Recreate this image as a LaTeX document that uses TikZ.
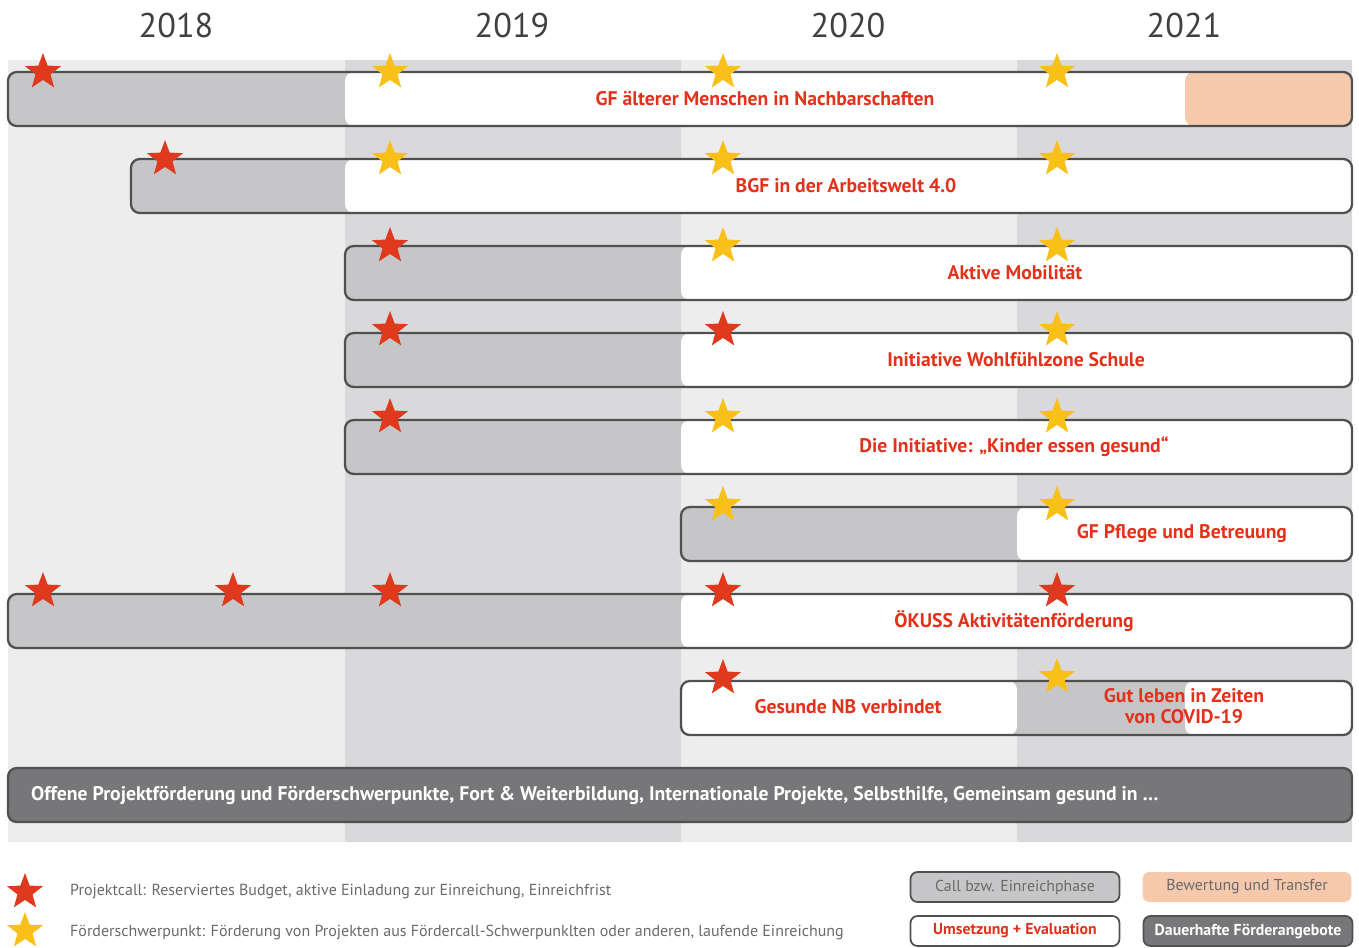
\documentclass[tikz,border=0pt]{standalone}
\usepackage{fontspec}
\setmainfont{PT Sans}
\usetikzlibrary{shapes.geometric}
\definecolor{colA}{HTML}{EDEDED}
\definecolor{colB}{HTML}{D9D9DB}
\definecolor{callgrey}{HTML}{C6C6C8}
\definecolor{linegrey}{HTML}{505050}
\definecolor{peach}{HTML}{F6C9AD}
\definecolor{darkbar}{HTML}{77777A}
\definecolor{labelred}{HTML}{E2321B}
\definecolor{starred}{HTML}{E03A1E}
\definecolor{staryellow}{HTML}{F9C01A}
\definecolor{legendtext}{HTML}{6A6A6A}

\begin{document}
\begin{tikzpicture}[x=0.02cm,y=-0.02cm,
    barline/.style={draw=linegrey,line width=1.3pt,rounded corners=5pt},
    rstar/.style={star,star points=5,star point ratio=2.4,fill=starred,minimum size=0.76cm,inner sep=0pt},
    ystar/.style={rstar,fill=staryellow},
    barlabel/.style={text=labelred,font=\bfseries\fontsize{11.2}{12.5}\selectfont,align=center},
    yearlabel/.style={text=black!75,font=\fontsize{19.5}{22}\selectfont},
    legtext/.style={text=legendtext,font=\fontsize{9.1}{11}\selectfont,anchor=west},
    legbox/.style={rounded corners=4pt,minimum width=4.18cm,minimum height=0.6cm,inner sep=0pt,font=\fontsize{9}{11}\selectfont}]
  \useasboundingbox (0,0) rectangle (1359,947);
  %year columns
    \fill[colA] (8,60) rectangle (345,842) (681,60) rectangle (1017,842);
    \fill[colB] (345,60) rectangle (681,842) (1017,60) rectangle (1352,842);
    \node[yearlabel] (y2018) at (176,26) {2018};
    \node[yearlabel] (y2019) at (512,26) {2019};
    \node[yearlabel] (y2020) at (848,26) {2020};
    \node[yearlabel] (y2021) at (1184,26) {2021};
  %bar 1 with transfer phase
    \begin{scope}
      \clip[rounded corners=5pt] (8,72) rectangle (1352,126);
      \fill[callgrey] (8,72) rectangle (1352,126);
      \fill[white,rounded corners=5pt] (345,72) rectangle (1352,126);
      \fill[peach,rounded corners=5pt] (1185,72) rectangle (1352,126);
    \end{scope}
    \draw[barline] (8,72) rectangle (1352,126);
  %bars with call and implementation phase
    \foreach \yt/\xs/\xw in {159/131/345,246/345/681,333/345/681,420/345/681,507/681/1017,594/8/681}{
      \begin{scope}
        \clip[rounded corners=5pt] (\xs,\yt) rectangle (1352,\yt+54);
        \fill[callgrey] (\xs,\yt) rectangle (1352,\yt+54);
        \fill[white,rounded corners=5pt] (\xw,\yt) rectangle (1352,\yt+54);
      \end{scope}
      \draw[barline] (\xs,\yt) rectangle (1352,\yt+54);
    }
  %bar 8 split in two
    \begin{scope}
      \clip[rounded corners=5pt] (681,681) rectangle (1352,735);
      \fill[callgrey] (681,681) rectangle (1352,735);
      \fill[white,rounded corners=5pt] (681,681) rectangle (1017,735);
      \fill[white,rounded corners=5pt] (1185,681) rectangle (1352,735);
    \end{scope}
    \draw[barline] (681,681) rectangle (1352,735);
  %permanent offers
    \draw[barline,fill=darkbar] (8,768) rectangle (1352,822);
    \node[anchor=west,text=white,font=\bfseries\fontsize{11.2}{12.5}\selectfont] (perm) at (25,795)
      {Offene Projektförderung und Förderschwerpunkte, Fort \& Weiterbildung, Internationale Projekte, Selbsthilfe, Gemeinsam gesund in \dots};
  %bar labels
    \node[barlabel] (gfam) at (765,99) {GF älterer Menschen in Nachbarschaften};
    \node[barlabel] (bgf) at (846,186) {BGF in der Arbeitswelt 4.0};
    \node[barlabel] (akmob) at (1015,273) {Aktive Mobilität};
    \node[barlabel] (wohlf) at (1016,360) {Initiative Wohlfühlzone Schule};
    \node[barlabel] (kinder) at (1014,447) {Die Initiative: „Kinder essen gesund“};
    \node[barlabel] (pflege) at (1182,534) {GF Pflege und Betreuung};
    \node[barlabel] (okuss) at (1014,621) {ÖKUSS Aktivitätenförderung};
    \node[barlabel] (gnb) at (848,707) {Gesunde NB verbindet};
    \node[barlabel,font=\bfseries\fontsize{11.2}{11.5}\selectfont] (covid) at (1184,706) {Gut leben in Zeiten\\von COVID-19};
  %calls and focus points
    \node[rstar] (s11) at (43,72) {};
    \node[ystar] (s12) at (390,72) {};
    \node[ystar] (s13) at (723,72) {};
    \node[ystar] (s14) at (1057,72) {};
    \node[rstar] (s21) at (165,159) {};
    \node[ystar] (s22) at (390,159) {};
    \node[ystar] (s23) at (723,159) {};
    \node[ystar] (s24) at (1057,159) {};
    \node[rstar] (s31) at (390,246) {};
    \node[ystar] (s32) at (723,246) {};
    \node[ystar] (s33) at (1057,246) {};
    \node[rstar] (s41) at (390,330) {};
    \node[rstar] (s42) at (723,330) {};
    \node[ystar] (s43) at (1057,330) {};
    \node[rstar] (s51) at (390,417) {};
    \node[ystar] (s52) at (723,417) {};
    \node[ystar] (s53) at (1057,417) {};
    \node[ystar] (s62) at (723,505) {};
    \node[ystar] (s63) at (1057,505) {};
    \node[rstar] (s71) at (43,591) {};
    \node[rstar] (s72) at (233,591) {};
    \node[rstar] (s73) at (390,591) {};
    \node[rstar] (s74) at (723,591) {};
    \node[rstar] (s75) at (1057,591) {};
    \node[rstar] (s81) at (723,678) {};
    \node[ystar] (s82) at (1057,677) {};
  %legend
    \node[rstar] (lred) at (25,892) {};
    \node[ystar] (lyel) at (25,931) {};
    \node[legtext] (lcall) at (64,892) {Projektcall: Reserviertes Budget, aktive Einladung zur Einreichung, Einreichfrist};
    \node[legtext] (lfsp) at (64,932) {Förderschwerpunkt: Förderung von Projekten aus Fördercall-Schwerpunklten oder anderen, laufende Einreichung};
    \node[legbox,draw=linegrey,line width=1pt,fill=callgrey,text=legendtext] (bcall) at (1015,887) {Call bzw. Einreichphase};
    \node[legbox,fill=peach,text=legendtext] (btrans) at (1247,887) {Bewertung und Transfer};
    \node[legbox,draw=linegrey,line width=1pt,fill=white,text=labelred,font=\bfseries\fontsize{9}{11}\selectfont] (bumset) at (1015,931) {Umsetzung + Evaluation};
    \node[legbox,draw=linegrey,line width=1pt,fill=darkbar,text=white,font=\bfseries\fontsize{9}{11}\selectfont] (bdauer) at (1248,931) {Dauerhafte Förderangebote};
\end{tikzpicture}
\end{document}
